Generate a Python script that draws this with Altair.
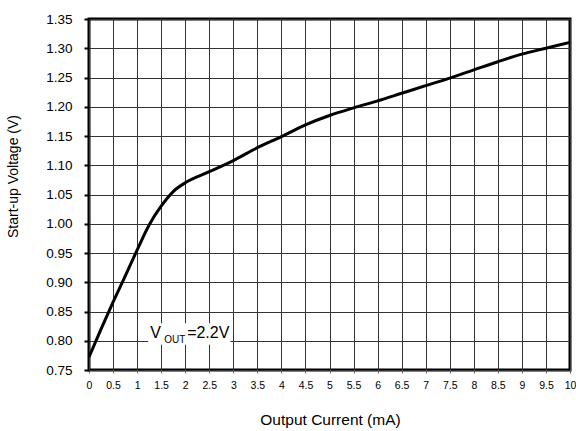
import altair as alt
import pandas as pd

# Curve data
current_ma = [0, 0.25, 0.5, 0.75, 1.0, 1.25, 1.5, 1.75, 2.0, 2.5, 3.0, 3.5, 4.0,
              4.5, 5.0, 5.5, 6.0, 6.5, 7.0, 7.5, 8.0, 8.5, 9.0, 9.5, 10.0]
startup_v = [0.772, 0.820, 0.866, 0.910, 0.955, 0.998, 1.030, 1.055, 1.070, 1.089,
             1.108, 1.130, 1.149, 1.169, 1.185, 1.198, 1.210, 1.223, 1.236, 1.249,
             1.263, 1.277, 1.290, 1.300, 1.310]

x_ticks = [i * 0.5 for i in range(21)]
y_ticks = [round(0.75 + i * 0.05, 2) for i in range(13)]

FONT = "Liberation Sans"

df = pd.DataFrame({"x": current_ma, "y": startup_v})

xscale = alt.Scale(domain=[0, 10], nice=False, zero=False)
yscale = alt.Scale(domain=[0.75, 1.35], nice=False, zero=False)

xaxis = alt.Axis(values=x_ticks, labelExpr="toString(datum.value)", title="Output Current (mA)",
                 grid=True, gridColor="#333333", gridWidth=1, gridOpacity=1,
                 domain=False, tickColor="#666666", tickSize=3, tickWidth=1,
                 labelFont=FONT, labelFontSize=10.5, labelColor="#000000",
                 labelPadding=7, labelFlush=False, labelOverlap=False, labelBound=False,
                 titleFont=FONT, titleFontSize=15.5, titleFontWeight="normal",
                 titleColor="#000000", titleAnchor="middle",
                 titleX=241, titleY=54, titleBaseline="alphabetic", titleAlign="center")

yaxis = alt.Axis(values=y_ticks, format=".2f", title="Start-up Voltage (V)",
                 grid=True, gridColor="#333333", gridWidth=1, gridOpacity=1,
                 domain=False, tickColor="#000000", tickSize=5, tickWidth=2,
                 labelFont=FONT, labelFontSize=13.5, labelColor="#000000",
                 labelPadding=12, labelFlush=False, labelOverlap=False, labelBound=False,
                 titleFont=FONT, titleFontSize=14, titleFontWeight="normal",
                 titleColor="#000000", titleAngle=270,
                 titleX=-75.5, titleY=157, titleBaseline="middle", titleAlign="center")

X = lambda f: alt.X(f, scale=xscale, axis=xaxis)
Y = lambda f: alt.Y(f, scale=yscale, axis=yaxis)

line = alt.Chart(df).mark_line(color="#000000", strokeWidth=3, interpolate="monotone").encode(
    x=X("x:Q"), y=Y("y:Q"),
)

# Annotation box (white background that hides grid lines behind the label)
ann_box = pd.DataFrame({"x": [1.23], "x2": [2.94], "y": [0.793], "y2": [0.830]})
box = alt.Chart(ann_box).mark_rect(color="#ffffff").encode(
    x=X("x:Q"), x2="x2:Q", y=Y("y:Q"), y2="y2:Q",
)

ann_pt = pd.DataFrame({"x": [1.25], "y": [0.80]})
t_v = alt.Chart(ann_pt).mark_text(text="V", font=FONT, fontSize=16, align="left",
                                   baseline="alphabetic", dx=1, dy=-3, color="#000000").encode(
    x=X("x:Q"), y=Y("y:Q"))
t_out = alt.Chart(ann_pt).mark_text(text="OUT", font=FONT, fontSize=10, align="left",
                                     baseline="alphabetic", dx=15, dy=2, color="#000000").encode(
    x=X("x:Q"), y=Y("y:Q"))
t_val = alt.Chart(ann_pt).mark_text(text="=2.2V", font=FONT, fontSize=16, align="left",
                                     baseline="alphabetic", dx=38, dy=-3, color="#000000").encode(
    x=X("x:Q"), y=Y("y:Q"))

chart = alt.layer(line, box, t_v, t_out, t_val).properties(
    width=481, height=351,
    autosize=alt.AutoSizeParams(type="none"),
    padding={"left": 89, "top": 19, "right": 6, "bottom": 61},
    background="#ffffff",
).configure_view(stroke="#000000", strokeWidth=3)

chart.save("out.html", embed_options={"renderer": "svg", "actions": False})
